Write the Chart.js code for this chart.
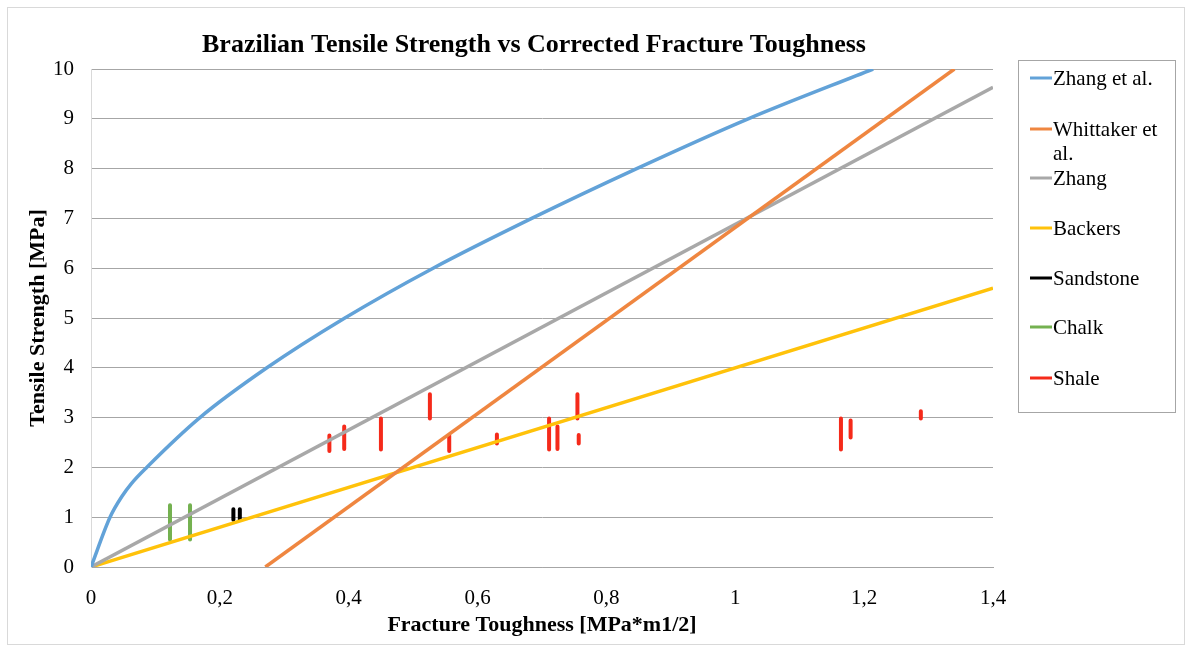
<!DOCTYPE html>
<html>
<head>
<meta charset="utf-8">
<script src="https://cdn.jsdelivr.net/npm/chart.js@4/dist/chart.umd.min.js"></script>
<style>
  html, body { margin: 0; padding: 0; background: #ffffff; }
  #wrap { width: 1189px; height: 649px; position: relative; }
  canvas { display: block; }
</style>
</head>
<body>
<div id="wrap"><canvas id="c" width="1189" height="649"></canvas></div>
<script>
// Empirical and published relations: tensile strength [MPa] vs fracture toughness [MPa*m1/2]
const zhangEtAlX = [0, 0.0295, 0.0476, 0.063, 0.0864, 0.169, 0.273, 0.394, 0.531, 0.684, 0.847, 1.020, 1.214];
const zhangEtAlY = [0, 1.0, 1.41, 1.68, 2.0, 3, 4, 5, 6, 7, 8, 9, 10];

const whittakerX = [0.2706, 1.3401];
const whittakerY = [0, 10];

const zhangX = [0, 1.4];
const zhangY = [0, 9.632];

const backersX = [0, 1.4];
const backersY = [0, 5.6];

// Measured ranges (min / max tensile strength) at each toughness value
const sandstoneX = [0.221, 0.231];
const sandstoneLow = [0.95, 0.95];
const sandstoneHigh = [1.16, 1.16];

const chalkX = [0.1226, 0.1537];
const chalkLow = [0.55, 0.55];
const chalkHigh = [1.24, 1.24];

const shaleX = [0.370, 0.393, 0.450, 0.526, 0.556, 0.630, 0.711, 0.724, 0.755, 0.757, 1.164, 1.179, 1.288];
const shaleLow = [2.33, 2.37, 2.36, 2.98, 2.33, 2.48, 2.36, 2.37, 2.98, 2.48, 2.36, 2.60, 2.98];
const shaleHigh = [2.64, 2.82, 2.98, 3.47, 2.64, 2.66, 2.98, 2.82, 3.47, 2.65, 2.98, 2.94, 3.13];

// Axis ticks
const xTicks = [0, 0.2, 0.4, 0.6, 0.8, 1, 1.2, 1.4];
const yTicks = [0, 1, 2, 3, 4, 5, 6, 7, 8, 9, 10];

const legendLabels = ['Zhang et al.', 'Whittaker et al.', 'Zhang', 'Backers', 'Sandstone', 'Chalk', 'Shale'];

const SERIF = '"Liberation Serif", "Times New Roman", serif';

function pairs(xs, ys) {
  return xs.map((x, i) => ({ x: x, y: ys[i] }));
}
// vertical range segments separated by gaps
function ranges(xs, lo, hi) {
  const out = [];
  xs.forEach((x, i) => {
    out.push({ x: x, y: lo[i] });
    out.push({ x: x, y: hi[i] });
    out.push({ x: x, y: null });
  });
  return out;
}

const colors = {
  zhangEtAl: '#62A2D8',
  whittaker: '#EF8640',
  zhang: '#A8A8A8',
  backers: '#FFC20A',
  sandstone: '#000000',
  chalk: '#74B150',
  shale: '#F52A1A'
};

function lineSet(label, data, color, extra) {
  return Object.assign({
    label: label,
    data: data,
    showLine: true,
    borderColor: color,
    backgroundColor: color,
    borderWidth: 3.5,
    pointRadius: 0,
    pointHoverRadius: 0,
    fill: false,
    spanGaps: false
  }, extra || {});
}

const datasets = [
  lineSet(legendLabels[0], pairs(zhangEtAlX, zhangEtAlY), colors.zhangEtAl, { cubicInterpolationMode: 'monotone' }),
  lineSet(legendLabels[1], pairs(whittakerX, whittakerY), colors.whittaker),
  lineSet(legendLabels[2], pairs(zhangX, zhangY), colors.zhang),
  lineSet(legendLabels[3], pairs(backersX, backersY), colors.backers),
  lineSet(legendLabels[4], ranges(sandstoneX, sandstoneLow, sandstoneHigh), colors.sandstone, { borderWidth: 4, borderCapStyle: 'round' }),
  lineSet(legendLabels[5], ranges(chalkX, chalkLow, chalkHigh), colors.chalk, { borderWidth: 4, borderCapStyle: 'round' }),
  lineSet(legendLabels[6], ranges(shaleX, shaleLow, shaleHigh), colors.shale, { borderWidth: 4, borderCapStyle: 'round' })
];

// Title, framed legend and outer border
const decorations = {
  id: 'decorations',
  beforeDraw(chart) {
    const ctx = chart.ctx;
    ctx.save();
    ctx.fillStyle = '#ffffff';
    ctx.fillRect(0, 0, chart.width, chart.height);
    ctx.strokeStyle = '#d9d9d9';
    ctx.lineWidth = 1;
    ctx.strokeRect(7.5, 7.5, chart.width - 12, chart.height - 12);
    ctx.restore();
  },
  afterDraw(chart) {
    const ctx = chart.ctx;
    ctx.save();
    // title
    ctx.fillStyle = '#000000';
    ctx.font = 'bold 26px ' + SERIF;
    ctx.textAlign = 'center';
    ctx.textBaseline = 'middle';
    ctx.fillText('Brazilian Tensile Strength vs Corrected Fracture Toughness', 534, 45);

    // legend box
    ctx.strokeStyle = '#a6a6a6';
    ctx.lineWidth = 1;
    ctx.strokeRect(1018.5, 60.5, 157, 352);
    const rows = [
      [78],
      [129, 153],
      [178],
      [228],
      [278],
      [327],
      [378]
    ];
    const wrapped = [
      ['Zhang et al.'],
      ['Whittaker et', 'al.'],
      ['Zhang'],
      ['Backers'],
      ['Sandstone'],
      ['Chalk'],
      ['Shale']
    ];
    ctx.font = '21px ' + SERIF;
    ctx.textAlign = 'left';
    ctx.textBaseline = 'middle';
    chart.data.datasets.forEach((ds, i) => {
      const y = rows[i][0];
      ctx.strokeStyle = ds.borderColor;
      ctx.lineWidth = 3;
      ctx.lineCap = 'butt';
      ctx.beginPath();
      ctx.moveTo(1030, y);
      ctx.lineTo(1052, y);
      ctx.stroke();
      ctx.fillStyle = '#000000';
      wrapped[i].forEach((t, k) => ctx.fillText(t, 1053, rows[i][k] + 1));
    });
    ctx.restore();
  }
};

new Chart(document.getElementById('c'), {
  type: 'scatter',
  data: { datasets: datasets },
  options: {
    responsive: false,
    animation: false,
    devicePixelRatio: 1,
    layout: { padding: { top: 69, right: 196, left: 0, bottom: 0 } },
    plugins: {
      legend: { display: false },
      title: { display: false },
      tooltip: { enabled: false }
    },
    scales: {
      x: {
        type: 'linear',
        min: 0,
        max: 1.4,
        afterFit(s) { s.height = 82; },
        afterBuildTicks(s) { s.ticks = xTicks.map(v => ({ value: v })); },
        grid: { display: false, drawTicks: false },
        border: { display: true, color: '#a6a6a6', width: 1 },
        ticks: {
          padding: 19,
          color: '#000000',
          font: { family: SERIF, size: 21 },
          callback: v => String(Number(v.toFixed(1))).replace('.', ',')
        },
        title: {
          display: true,
          text: 'Fracture Toughness [MPa*m1/2]',
          color: '#000000',
          font: { family: SERIF, size: 22, weight: 'bold' },
          padding: { top: 0, bottom: 10 }
        }
      },
      y: {
        type: 'linear',
        min: 0,
        max: 10,
        afterFit(s) { s.width = 91; },
        afterBuildTicks(s) { s.ticks = yTicks.map(v => ({ value: v })); },
        grid: { display: true, color: '#a6a6a6', lineWidth: 1, drawTicks: false },
        border: { display: true, color: '#d9d9d9', width: 1 },
        ticks: {
          padding: 17,
          color: '#000000',
          font: { family: SERIF, size: 21 }
        },
        title: {
          display: true,
          text: 'Tensile Strength [MPa]',
          color: '#000000',
          font: { family: SERIF, size: 22, weight: 'bold' },
          padding: { top: 25, bottom: 0 }
        }
      }
    }
  },
  plugins: [decorations]
});
</script>
</body>
</html>
